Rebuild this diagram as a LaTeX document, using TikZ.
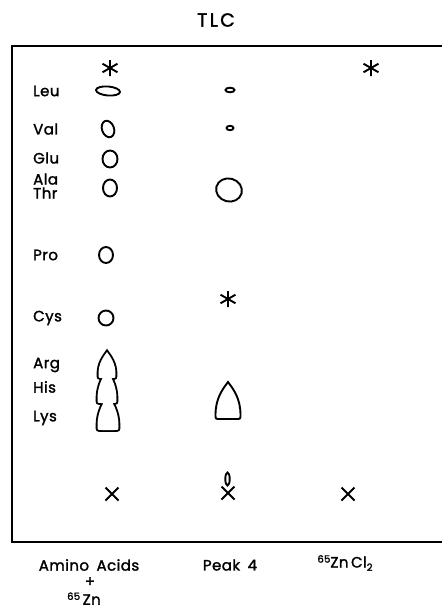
\documentclass[tikz,border=0pt]{standalone}
\usepackage{fontspec}
\setmainfont{Poppins}[FakeBold=1.6]
\usetikzlibrary{positioning}

% outline of a pointed spot: x, top y, bottom y, half width
\newcommand{\droppath}[4]{%
  (#1,#2) .. controls ({#1+0.45*#4},{#2+0.2*(#3-#2)}) and ({#1+#4},{#2+0.45*(#3-#2)}) .. ({#1+#4},{#3-4})
  .. controls ({#1+#4},{#3}) .. ({#1+0.6*#4},{#3}) -- ({#1-0.6*#4},{#3})
  .. controls ({#1-#4},{#3}) .. ({#1-#4},{#3-4})
  .. controls ({#1-#4},{#2+0.45*(#3-#2)}) and ({#1-0.45*#4},{#2+0.2*(#3-#2)}) .. (#1,#2) -- cycle}

\begin{document}
\begin{tikzpicture}[
    x=1pt, y=-1pt,
    font=\fontsize{15}{14}\selectfont\addfontfeature{LetterSpace=3},
    frame_line/.style={line width=1.2pt},
    spot_line/.style={line width=1.9pt},
    mark_line/.style={line width=1.9pt},
    acid_label/.style={anchor=west, inner sep=0pt, align=left},
    lane_label/.style={inner sep=0pt},
    star_mark/.pic={\draw[mark_line] (0,-8) -- (0,8) (-7.5,-4.3) -- (7.5,4.3) (-7.5,4.3) -- (7.5,-4.3);},
    cross_mark/.pic={\draw[mark_line] (-6.5,-6.5) -- (6.5,6.5) (-6.5,6.5) -- (6.5,-6.5);}
]
\path[use as bounding box] (0,0) rectangle (442,608);
\clip (0,0) rectangle (442,608);

% Title and plate
\node[lane_label, font=\fontsize{19}{18}\selectfont\addfontfeature{LetterSpace=12}] (title) at (216,20) {TLC};
\draw[frame_line] (442,46) -- (12,46) -- (12,542) -- (442,542);

% Amino acid names
\node[acid_label] (leu) at (33,91) {Leu};
\node[acid_label] (val) at (33,129) {Val};
\node[acid_label] (glu) at (33,158) {Glu};
\node[acid_label] (alathr) at (33,186) {Ala\\Thr};
\node[acid_label] (pro) at (33,255) {Pro};
\node[acid_label] (cys) at (33,318) {Cys};
\node[acid_label] (arg) at (33,365) {Arg};
\node[acid_label] (his) at (33,387) {His};
\node[acid_label] (lys) at (33,418) {Lys};

% Lane 1: amino acids + Zn
\pic (frontA) at (110,68) {star_mark};
\draw[spot_line] (108,91) ellipse [x radius=12, y radius=4.5, rotate=-5];
\draw[spot_line] (108,129) ellipse [x radius=6, y radius=8.5, rotate=20];
\draw[spot_line] (110,159) ellipse [x radius=7.5, y radius=8.5];
\draw[spot_line] (110,188) ellipse [x radius=7, y radius=8.5];
\draw[spot_line] (106,255) ellipse [x radius=7, y radius=8];
\draw[spot_line] (106,318) circle [radius=7.5];
\draw[line width=3.8pt] \droppath{108}{396}{430}{10.5} \droppath{107}{371}{403}{9.5} \droppath{107}{352}{378}{8.5};
\fill[white] \droppath{108}{396}{430}{10.5} \droppath{107}{371}{403}{9.5} \droppath{107}{352}{378}{8.5};
\pic (originA) at (112,494) {cross_mark};

% Lane 2: peak 4
\draw[spot_line] (230,90) ellipse [x radius=4.5, y radius=2.3];
\draw[spot_line] (230,128) ellipse [x radius=3.5, y radius=2.2];
\draw[spot_line] (229,190) ellipse [x radius=13, y radius=11.5, rotate=-15];
\pic (starB) at (228,299) {star_mark};
\draw[spot_line] \droppath{228}{382}{419}{12.5};
\draw[spot_line] (227.5,479) ellipse [x radius=2.2, y radius=6.5];
\pic (originB) at (228,493) {cross_mark};

% Lane 3: ZnCl2
\pic (frontC) at (371,68) {star_mark};
\pic (originC) at (348,494) {cross_mark};

% Lane names
\node[lane_label] (laneA) at (89,565) {Amino\enspace Acids};
\node[lane_label] (plus) at (90,582) {+};
\node[lane_label, anchor=south] (zn) at (84,605) {\raisebox{0.6ex}{\fontsize{10}{9}\selectfont 65}\,Zn};
\node[lane_label] (laneB) at (230,565) {Peak\enspace 4};
\node[lane_label] (laneC) at (345,563) {\raisebox{0.6ex}{\fontsize{10}{9}\selectfont 65}Zn\,Cl\raisebox{-0.4ex}{\fontsize{10}{9}\selectfont 2}};
\end{tikzpicture}
\end{document}
